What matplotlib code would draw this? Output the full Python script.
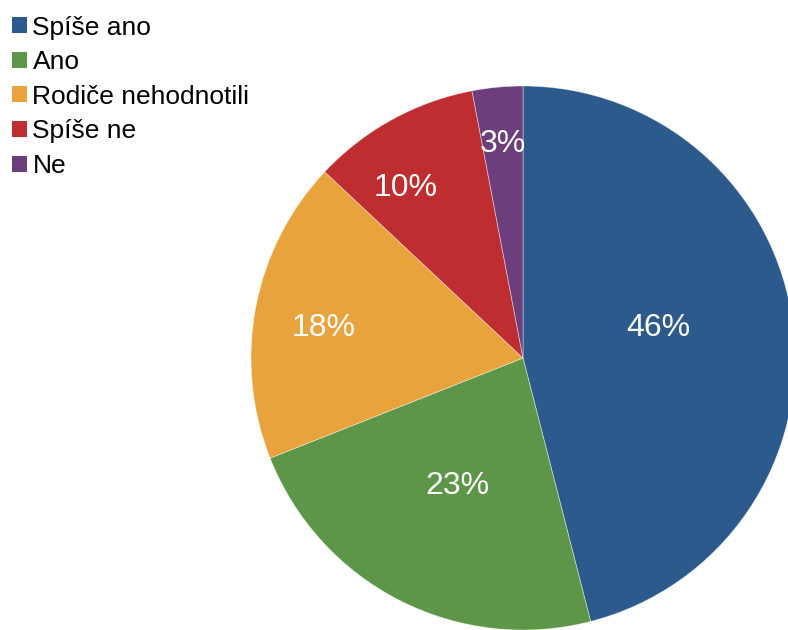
import matplotlib
matplotlib.use("Agg")
import matplotlib.pyplot as plt
import numpy as np
from matplotlib.patches import Patch

plt.rcParams['font.family'] = ['Liberation Sans', 'DejaVu Sans']

categories = ["Spíše ano", "Ano", "Rodiče nehodnotili", "Spíše ne", "Ne"]
shares = [46, 23, 18, 10, 3]
colors = ["#2D5A8C", "#5E9649", "#E8A33D", "#BE2D30", "#6C3E7B"]

# radial position of each percentage label (fraction of radius) and angular nudge (deg)
label_radius = [0.51, 0.53, 0.74, 0.76, 0.79]
label_nudge = [5.5, 0.0, 2.3, 5.8, 0.0]

W, H = 788, 630
cx, cy, R = 523, 358, 272  # pixel centre (from top) and radius

fig = plt.figure(figsize=(W / 100, H / 100), dpi=100)
ax = fig.add_axes([0, 0, 1, 1])

wedges, _ = ax.pie(shares, colors=colors, startangle=90, counterclock=False,
                   radius=1.0, center=(0, 0), frame=True,
                   wedgeprops=dict(edgecolor=(1, 1, 1, 0.45), linewidth=0.6))
ax.set_xlim(-cx / R, (W - cx) / R)
ax.set_ylim(-(H - cy) / R, cy / R)
ax.set_aspect('equal')
ax.axis('off')

for w, v, rr, dn in zip(wedges, shares, label_radius, label_nudge):
    ang = np.deg2rad((w.theta1 + w.theta2) / 2 + dn)
    ax.text(rr * np.cos(ang), rr * np.sin(ang), f"{v}%", color="white",
            fontsize=23, ha="center", va="center")

handles = [Patch(facecolor=c, edgecolor='none') for c in colors]
fig.legend(handles, categories, loc="upper left", bbox_to_anchor=(0.0, 0.994),
           frameon=False, fontsize=19, handlelength=0.56, handleheight=0.56,
           handletextpad=0.22, labelspacing=0.40, borderaxespad=0.2,
           borderpad=0.25)

fig.savefig("out.png", dpi=100)
